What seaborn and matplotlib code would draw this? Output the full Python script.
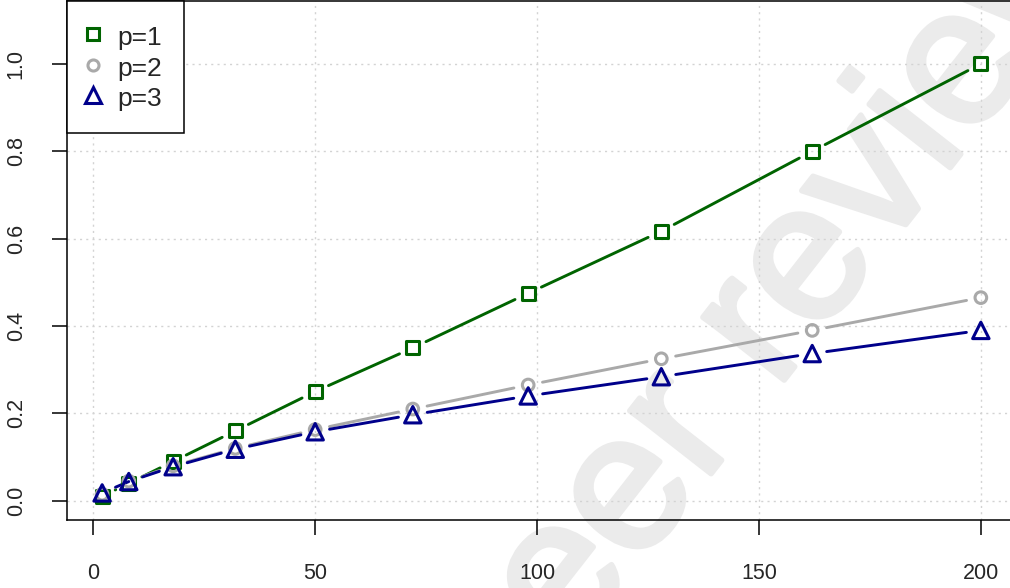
import numpy as np
import pandas as pd
import seaborn as sns
import matplotlib.pyplot as plt
import matplotlib.patheffects as pe
from matplotlib.lines import Line2D

# data
x_vals = [2, 8, 18, 32, 50, 72, 98, 128, 162, 200]
p1 = [0.010, 0.040, 0.090, 0.160, 0.250, 0.350, 0.475, 0.617, 0.800, 1.000]
p2 = [0.015, 0.045, 0.080, 0.120, 0.163, 0.210, 0.265, 0.325, 0.390, 0.465]
p3 = [0.018, 0.044, 0.078, 0.118, 0.158, 0.197, 0.240, 0.284, 0.337, 0.390]
labels = ['p=1', 'p=2', 'p=3']
colors = ['#006400', '#A9A9A9', '#00008B']
markers = ['s', 'o', '^']
msizes = [90, 70, 140]
x_ticks = [0, 50, 100, 150, 200]
y_ticks = [0.0, 0.2, 0.4, 0.6, 0.8, 1.0]

sns.set_style('ticks')
plt.rcParams['font.family'] = ['Liberation Sans', 'DejaVu Sans']

df = pd.DataFrame({'x': x_vals * 3,
                   'y': p1 + p2 + p3,
                   'p': np.repeat(labels, len(x_vals))})

fig = plt.figure(figsize=(10.1, 5.88), dpi=100)
ax = fig.add_axes([67 / 1010, 68 / 588, 949 / 1010, 519 / 588])
ax.set_xlim(-5.92, 207.92)
ax.set_ylim(-0.044, 1.144)

ax.set_xticks(x_ticks)
ax.set_yticks(y_ticks)
ax.set_xticklabels([str(t) for t in x_ticks])
ax.set_yticklabels([f'{t:.1f}' for t in y_ticks], rotation=90, va='center')
ax.tick_params(axis='both', length=11, width=1.1, labelsize=15.5, color='black')
ax.tick_params(axis='x', pad=20)
ax.tick_params(axis='y', pad=18)
for sp in ax.spines.values():
    sp.set_visible(True)
    sp.set_linewidth(1.1)
    sp.set_color('black')

ax.grid(True, color='#d3d3d3', lw=1.0, ls=(0, (1.5, 3)))
ax.set_axisbelow(True)

# watermark, sits under the grid
ax.text(0.765, 0.468, 'peer review', transform=fig.transFigure, rotation=52,
        fontsize=140, color='#ebebeb', ha='center', va='center',
        rotation_mode='anchor', zorder=0.1, clip_on=False,
        path_effects=[pe.withStroke(linewidth=4, foreground='#ebebeb')])

# type="b" style: segments with gaps around the points
for lab, col in zip(labels, colors):
    sub = df[df['p'] == lab]
    xs, ys = sub['x'].values, sub['y'].values
    for i in range(len(xs) - 1):
        ax.annotate('', xy=(xs[i + 1], ys[i + 1]), xytext=(xs[i], ys[i]),
                    arrowprops=dict(arrowstyle='-', color=col, lw=2.1,
                                    shrinkA=10.5, shrinkB=10.5))

for lab, col, mk, ms in zip(labels, colors, markers, msizes):
    sub = df[df['p'] == lab]
    sns.scatterplot(data=sub, x='x', y='y', ax=ax, marker=mk, s=ms,
                    color=col, linewidth=2.2, legend=False, zorder=3)
    pts = ax.collections[-1]
    pts.set_edgecolors(col)
    pts.set_facecolors('none')

ax.set_xlabel('')
ax.set_ylabel('')

handles = [Line2D([], [], ls='none', marker=mk, markersize=np.sqrt(ms) * 0.95,
                  markerfacecolor='none', markeredgecolor=col, markeredgewidth=2.2)
           for col, mk, ms in zip(colors, markers, msizes)]
leg = ax.legend(handles, labels, loc='upper left', bbox_to_anchor=(0, 1),
                borderaxespad=0, frameon=True, fancybox=False, framealpha=1,
                edgecolor='black', fontsize=19, handletextpad=0.75,
                labelspacing=0.12, handleheight=1.15, borderpad=0.85,
                handlelength=0.3)
leg.get_frame().set_linewidth(1.1)
leg.set_zorder(5)

fig.savefig('out.png', dpi=100)
